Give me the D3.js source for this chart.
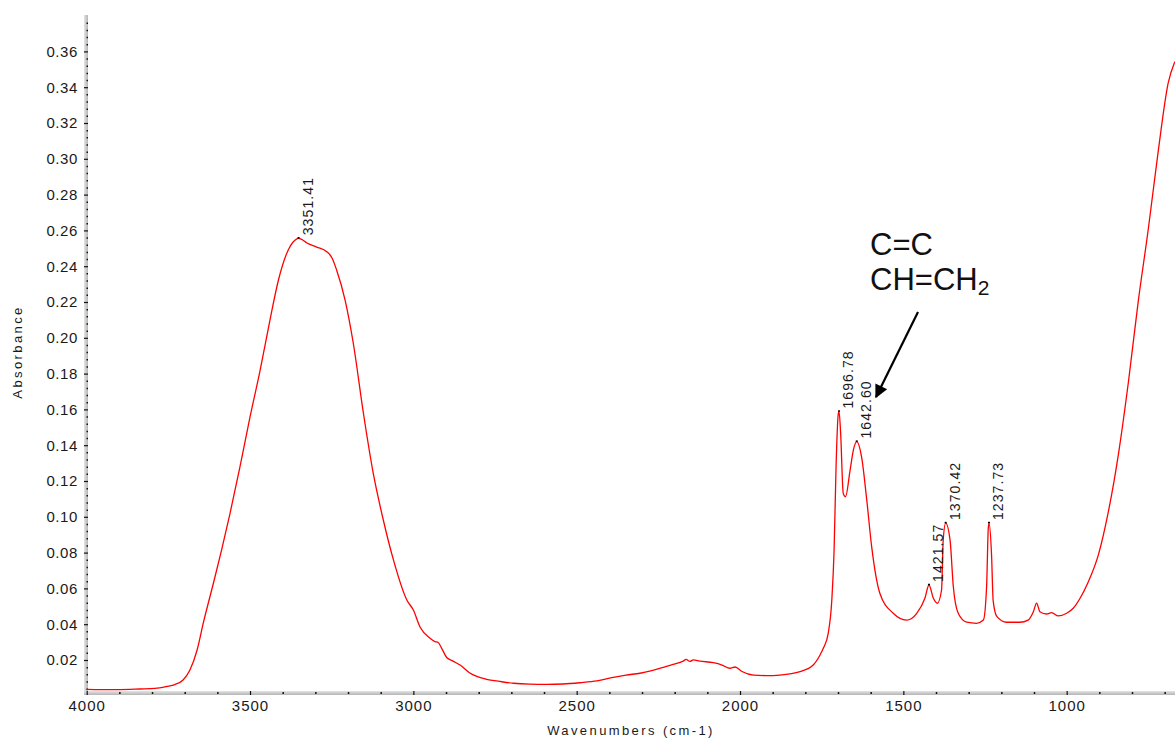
<!DOCTYPE html>
<html>
<head>
<meta charset="utf-8">
<script src="https://cdn.jsdelivr.net/npm/d3@7"></script>
<style>
  body { margin: 0; background: #fff; }
  svg { display: block; font-family: "Liberation Sans", Arial, sans-serif; }
</style>
</head>
<body>
<div id="container"></div>
<script>
// Spectrum: wavenumber (cm-1) and absorbance
const wavenumbers = [4000, 3959, 3898, 3837, 3791, 3755, 3730, 3705, 3684, 3662, 3643, 3612, 3587, 3561, 3531, 3500, 3469, 3439, 3413, 3383, 3368, 3351.41, 3341, 3327, 3296, 3265, 3249, 3235, 3209, 3184, 3153, 3123, 3092, 3061, 3020, 3000, 2980, 2949, 2934, 2924, 2912, 2898, 2879, 2857, 2827, 2776, 2735, 2694, 2643, 2592, 2542, 2490, 2438, 2388, 2349, 2306, 2270, 2235, 2205, 2174, 2165, 2153, 2143, 2123, 2082, 2055, 2031, 2015, 1994, 1959, 1920, 1878, 1816, 1776, 1755, 1745, 1730, 1719, 1712, 1706, 1699, 1696.78, 1692, 1684, 1677, 1663, 1653, 1642.60, 1628, 1612, 1597, 1572, 1531, 1490, 1459, 1434, 1421.57, 1408, 1396, 1383, 1378, 1370.42, 1357, 1347, 1332, 1306, 1276, 1255, 1245, 1240, 1237.73, 1230, 1225, 1214, 1184, 1143, 1118, 1102, 1092, 1082, 1061, 1046, 1026, 1000, 980, 959, 934, 903, 873, 842, 811, 781, 750, 720, 689, 669];
const absorbance = [0.0036, 0.0035, 0.0035, 0.0038, 0.0041, 0.0052, 0.0063, 0.0088, 0.0144, 0.0256, 0.0407, 0.0630, 0.0815, 0.1021, 0.1278, 0.1558, 0.1820, 0.2099, 0.2323, 0.2491, 0.2535, 0.2556, 0.2549, 0.2531, 0.2507, 0.2481, 0.2446, 0.2379, 0.2211, 0.1971, 0.1580, 0.1245, 0.0982, 0.0759, 0.0535, 0.0479, 0.0386, 0.0321, 0.0303, 0.0298, 0.0261, 0.0214, 0.0194, 0.0172, 0.0127, 0.0092, 0.0080, 0.0070, 0.0065, 0.0064, 0.0066, 0.0073, 0.0083, 0.0103, 0.0116, 0.0126, 0.0141, 0.0159, 0.0175, 0.0194, 0.0203, 0.0192, 0.0201, 0.0194, 0.0185, 0.0172, 0.0154, 0.0161, 0.0136, 0.0116, 0.0113, 0.0116, 0.0135, 0.0172, 0.0228, 0.0265, 0.0349, 0.0535, 0.0815, 0.1280, 0.1578, 0.1588, 0.1468, 0.1131, 0.1112, 0.1261, 0.1373, 0.1420, 0.1336, 0.1094, 0.0833, 0.0573, 0.0461, 0.0423, 0.0461, 0.0545, 0.0619, 0.0545, 0.0517, 0.0591, 0.0870, 0.0965, 0.0870, 0.0609, 0.0461, 0.0411, 0.0405, 0.0423, 0.0616, 0.0937, 0.0965, 0.0787, 0.0530, 0.0444, 0.0411, 0.0411, 0.0423, 0.0470, 0.0518, 0.0470, 0.0457, 0.0465, 0.0446, 0.0461, 0.0489, 0.0545, 0.0636, 0.0787, 0.1023, 0.1345, 0.1753, 0.2202, 0.2609, 0.3039, 0.3425, 0.3542];

// Labelled peaks
const peakWavenumbers = [3351.41, 1696.78, 1642.60, 1421.57, 1370.42, 1237.73];
const peakLabels = ["3351.41", "1696.78", "1642.60", "1421.57", "1370.42", "1237.73"];

// Axis ticks
const xTickValues = [4000, 3500, 3000, 2500, 2000, 1500, 1000];
const yTickValues = [0.02, 0.04, 0.06, 0.08, 0.10, 0.12, 0.14, 0.16, 0.18, 0.20, 0.22, 0.24, 0.26, 0.28, 0.30, 0.32, 0.34, 0.36];
const yTickLabels = ["0.02", "0.04", "0.06", "0.08", "0.10", "0.12", "0.14", "0.16", "0.18", "0.20", "0.22", "0.24", "0.26", "0.28", "0.30", "0.32", "0.34", "0.36"];

const chartWidth = 1175;
const chartHeight = 740;

const axisLeftX = 88;
const axisBottomY = 691;
const plotTop = 15;

var svg = d3.select("#container")
    .append("svg")
    .attr("width", chartWidth)
    .attr("height", chartHeight);

// Scales
var x = d3.scaleLinear()
    .domain([4000, 669])
    .range([86.7, 1174.8]);

var y = d3.scaleLinear()
    .domain([0, 0.38])
    .range([695.8, 15.6]);

// Gray axis bars
var defs = svg.append("defs");
var gv = defs.append("linearGradient").attr("id", "gv").attr("x1", 0).attr("x2", 1).attr("y1", 0).attr("y2", 0);
gv.append("stop").attr("offset", "0%").attr("stop-color", "#e4e4e4");
gv.append("stop").attr("offset", "100%").attr("stop-color", "#b4b4b4");
var gh = defs.append("linearGradient").attr("id", "gh").attr("x1", 0).attr("x2", 0).attr("y1", 0).attr("y2", 1);
gh.append("stop").attr("offset", "0%").attr("stop-color", "#e4e4e4");
gh.append("stop").attr("offset", "100%").attr("stop-color", "#b4b4b4");

svg.append("rect")
    .attr("x", axisLeftX - 4).attr("y", plotTop)
    .attr("width", 4).attr("height", axisBottomY + 4 - plotTop)
    .attr("fill", "url(#gv)");

svg.append("rect")
    .attr("x", axisLeftX - 4).attr("y", axisBottomY)
    .attr("width", chartWidth - axisLeftX + 4).attr("height", 4)
    .attr("fill", "url(#gh)");

// Minor ticks
var yMinor = d3.range(1, 95).map(d => d * 0.004).filter(v => Math.abs(v / 0.02 - Math.round(v / 0.02)) > 1e-6);
var xMinor = d3.range(3900, 650, -100).filter(v => v % 500 != 0);

svg.append("g")
    .attr("transform", "translate(" + axisLeftX + ",0)")
    .call(d3.axisLeft(y).tickValues(yMinor).tickSize(1.5).tickFormat(""))
    .call(g => g.select(".domain").remove())
    .call(g => g.selectAll("line").attr("stroke", "#111").attr("stroke-width", 1.5));

svg.append("g")
    .attr("transform", "translate(0," + axisBottomY + ")")
    .call(d3.axisBottom(x).tickValues(xMinor).tickSize(2).tickFormat(""))
    .call(g => g.select(".domain").remove())
    .call(g => g.selectAll("line").attr("stroke", "#111").attr("stroke-width", 1.5).attr("transform", "translate(0,1)"));

// Y axis
svg.append("g")
    .attr("transform", "translate(" + axisLeftX + ",0)")
    .call(d3.axisLeft(y).tickValues(yTickValues).tickSize(4).tickPadding(6)
        .tickFormat((d, i) => yTickLabels[i]))
    .call(g => g.select(".domain").remove())
    .call(g => g.selectAll("line").attr("stroke", "#111").attr("stroke-width", 1.2))
    .call(g => g.selectAll("text")
        .attr("fill", "#1a1a1a")
        .style("font-size", "15px")
        .style("letter-spacing", "0.6px")
        .style("font-family", "'Liberation Sans', Arial, sans-serif"));

// X axis
svg.append("g")
    .attr("transform", "translate(0," + axisBottomY + ")")
    .call(d3.axisBottom(x).tickValues(xTickValues).tickSize(4).tickPadding(5)
        .tickFormat(d3.format("d")))
    .call(g => g.select(".domain").remove())
    .call(g => g.selectAll("line").attr("stroke", "#111").attr("stroke-width", 1.2))
    .call(g => g.selectAll("text")
        .attr("fill", "#1a1a1a")
        .style("font-size", "15px")
        .style("letter-spacing", "1px")
        .style("font-family", "'Liberation Sans', Arial, sans-serif"));

// Axis titles
svg.append("text")
    .attr("x", 631)
    .attr("y", 735)
    .attr("text-anchor", "middle")
    .attr("fill", "#1a1a1a")
    .style("font-size", "13px")
    .style("letter-spacing", "2.4px")
    .text("Wavenumbers (cm-1)");

svg.append("text")
    .attr("transform", "translate(22,352) rotate(-90)")
    .attr("text-anchor", "middle")
    .attr("fill", "#1a1a1a")
    .style("font-size", "13px")
    .style("letter-spacing", "2.4px")
    .text("Absorbance");

// Spectrum line
var spectrum = wavenumbers.map((w, i) => ({ x: w, y: absorbance[i] }));

svg.append("clipPath").attr("id", "plotClip")
    .append("rect")
    .attr("x", 86).attr("y", plotTop)
    .attr("width", chartWidth - 86).attr("height", axisBottomY - plotTop);

svg.append("path")
    .datum(spectrum)
    .attr("clip-path", "url(#plotClip)")
    .attr("fill", "none")
    .attr("stroke", "#ff0000")
    .attr("stroke-width", 1.3)
    .attr("stroke-linejoin", "round")
    .attr("d", d3.line()
        .curve(d3.curveMonotoneX)
        .x(d => x(d.x))
        .y(d => y(d.y))
    );

// Peak labels
var peakData = peakWavenumbers.map((w, i) => ({ x: w, y: absorbance[wavenumbers.indexOf(w)], label: peakLabels[i] }));

svg.selectAll(".peak-mark")
    .data(peakData)
    .enter()
    .append("line")
    .attr("x1", d => x(d.x) - 1)
    .attr("x2", d => x(d.x) + 1)
    .attr("y1", d => y(d.y) - 0.5)
    .attr("y2", d => y(d.y) - 0.5)
    .attr("stroke", "#000")
    .attr("stroke-width", 1.5);

svg.selectAll(".peak-label")
    .data(peakData)
    .enter()
    .append("text")
    .attr("transform", d => "translate(" + (x(d.x) + 14) + "," + (y(d.y) - 3) + ") rotate(-90)")
    .attr("text-anchor", "start")
    .attr("fill", "#1a1a1a")
    .style("font-size", "14px")
    .style("letter-spacing", "1.1px")
    .text(d => d.label);

// Annotation
svg.append("text")
    .attr("x", 870)
    .attr("y", 255)
    .attr("fill", "#111")
    .style("font-size", "31px")
    .text("C=C");

var ann = svg.append("text")
    .attr("x", 870)
    .attr("y", 290)
    .attr("fill", "#111")
    .style("font-size", "31px");
ann.append("tspan").text("CH=CH");
ann.append("tspan").attr("dy", 5).style("font-size", "21px").text("2");

defs.append("marker")
    .attr("id", "arrowHead")
    .attr("viewBox", "0 0 10 10")
    .attr("refX", 9).attr("refY", 5)
    .attr("markerWidth", 7).attr("markerHeight", 6)
    .attr("markerUnits", "strokeWidth")
    .attr("orient", "auto")
    .append("path")
    .attr("d", "M0,0 L10,5 L0,10 Z")
    .attr("fill", "#000");

svg.append("line")
    .attr("x1", 918)
    .attr("y1", 312)
    .attr("x2", 876)
    .attr("y2", 397)
    .attr("stroke", "#000")
    .attr("stroke-width", 2.2)
    .attr("marker-end", "url(#arrowHead)");
</script>
</body>
</html>
